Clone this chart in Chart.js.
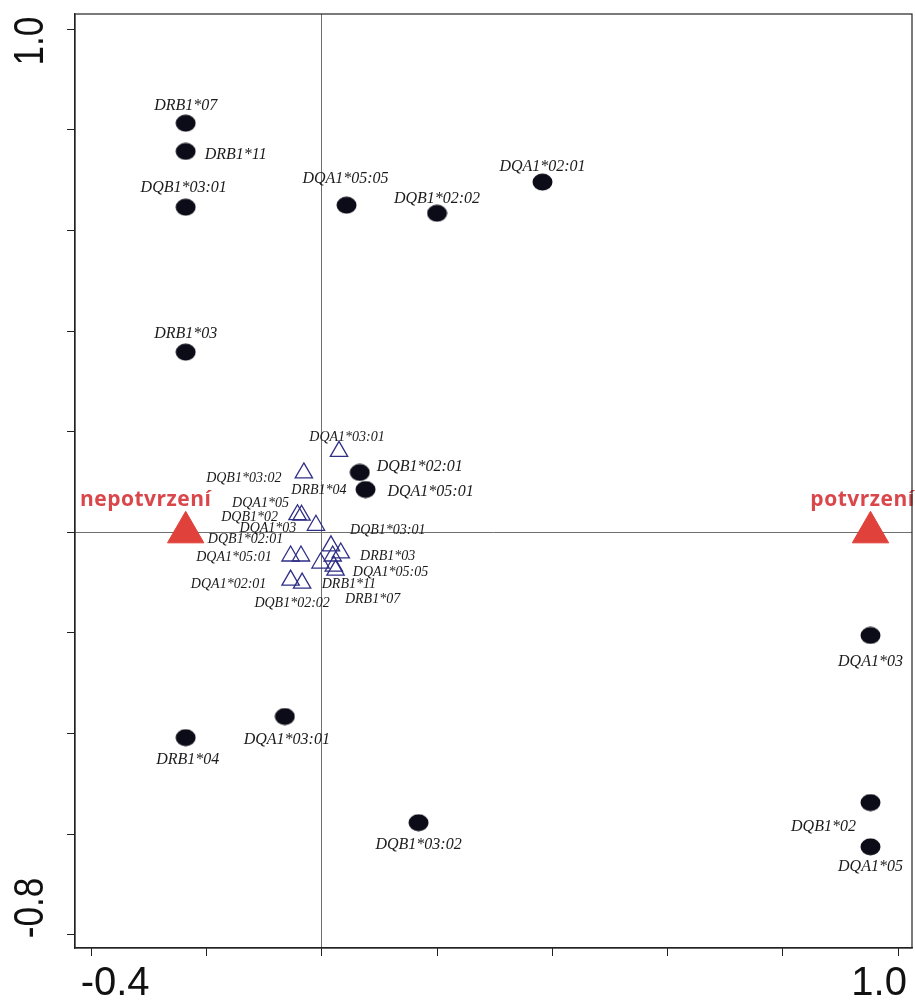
<!DOCTYPE html>
<html>
<head>
<meta charset="utf-8">
<script src="https://cdn.jsdelivr.net/npm/chart.js@4.4.1/dist/chart.umd.min.js"></script>
<style>
  body { margin: 0; background: #fff; }
  canvas { display: block; }
</style>
</head>
<body>
<canvas id="ordination" width="915" height="1003"></canvas>
<script>
// allele scores (black dots)
const alleleNames = ["DRB1*07", "DRB1*11", "DQB1*03:01", "DRB1*03", "DQA1*05:05", "DQB1*02:02",
  "DQA1*02:01", "DQB1*02:01", "DQA1*05:01", "DQA1*03", "DQB1*02", "DQA1*05",
  "DQA1*03:01", "DRB1*04", "DQB1*03:02"];
const alleleX = [-0.236, -0.236, -0.236, -0.236, 0.043, 0.200, 0.383, 0.066, 0.076, 0.952, 0.952, 0.952, -0.064, -0.236, 0.168];
const alleleY = [0.813, 0.757, 0.646, 0.358, 0.650, 0.634, 0.696, 0.119, 0.085, -0.205, -0.537, -0.625, -0.366, -0.408, -0.577];

// sample scores (open triangles)
const sampleNames = ["DQA1*03:01", "DQB1*03:02", "DRB1*04", "DQA1*05", "DQB1*02", "DQA1*03",
  "DQB1*02:01", "DQB1*03:01", "DRB1*03", "DQA1*05:01", "DQA1*05:05", "DQA1*02:01",
  "DRB1*11", "DQB1*02:02", "DRB1*07"];
const sampleX = [0.030, -0.031, 0.016, -0.042, -0.035, -0.010, -0.054, 0.033, 0.019, -0.036, 0.024, -0.054, 0.021, -0.034, -0.002];
const sampleY = [0.161, 0.118, -0.027, 0.035, 0.034, 0.014, -0.047, -0.041, -0.047, -0.047, -0.075, -0.095, -0.067, -0.101, -0.061];

// group centroids (red triangles)
const groupNames = ["nepotvrzení", "potvrzení"];
const groupX = [-0.236, 0.952];
const groupY = [0, 0];

const xTicks = [-0.4, -0.2, 0, 0.2, 0.4, 0.6, 0.8, 1.0];
const yTicks = [-0.8, -0.6, -0.4, -0.2, 0, 0.2, 0.4, 0.6, 0.8, 1.0];
const xTickLabels = { "-0.4": "-0.4", "1": "1.0" };
const yTickLabels = { "-0.8": "-0.8", "1": "1.0" };

// label placement (pixel shift of label centre from its point)
const alleleLabelShift = [[0, -17], [50, 3], [-2, -19], [0, -18], [-1, -26], [0, -14], [0, -15],
  [60, -6], [65, 2], [0, 26], [-47, 24], [0, 20], [2, 23], [2, 22], [0, 22]];
const sampleLabelShift = [[8, -14], [-60, 5], [-12, -56], [-37, -11], [-52, 2], [-48, 3],
  [-45, -17], [47, -23], [55, 0], [-67, 1], [55, 2], [-62, 4], [15, 18], [-10, 20], [52, 36]];
const groupLabelShift = [[-40, -32], [-8, -32]];

// slightly flattened black dot
const dot = document.createElement('canvas');
dot.width = 21; dot.height = 18;
const dctx = dot.getContext('2d');
dctx.fillStyle = '#0c0c18';
dctx.beginPath();
dctx.ellipse(10.5, 9, 10, 8.5, 0, 0, Math.PI * 2);
dctx.fill();

const toPoints = (xs, ys) => xs.map((x, i) => ({ x: x, y: ys[i] }));

const labelPlugin = {
  id: 'pointLabels',
  afterDatasetsDraw(chart) {
    const ctx = chart.ctx;
    const sets = [
      { names: alleleNames, shift: alleleLabelShift, font: 'italic 16px "Liberation Serif"', color: '#1b1b1b', spacing: '0px' },
      { names: sampleNames, shift: sampleLabelShift, font: 'italic 14px "Liberation Serif"', color: '#1b1b1b', spacing: '0px' },
      { names: groupNames, shift: groupLabelShift, font: 'bold 21px "Open Sans"', color: '#d9474b', spacing: '0.5px' }
    ];
    ctx.save();
    ctx.textAlign = 'center';
    ctx.textBaseline = 'middle';
    sets.forEach((s, di) => {
      const meta = chart.getDatasetMeta(di);
      ctx.font = s.font;
      ctx.fillStyle = s.color;
      ctx.letterSpacing = s.spacing;
      meta.data.forEach((pt, i) => {
        ctx.fillText(s.names[i], pt.x + s.shift[i][0], pt.y + s.shift[i][1]);
      });
    });
    ctx.restore();
  }
};

const framePlugin = {
  id: 'frameAndAxisText',
  afterDraw(chart) {
    const ctx = chart.ctx;
    const a = chart.chartArea;
    ctx.save();
    ctx.strokeStyle = '#222';
    ctx.lineWidth = 1.2;
    ctx.strokeRect(a.left, a.top, a.right - a.left, a.bottom - a.top);

    ctx.fillStyle = '#111';
    ctx.font = '40px "Liberation Sans"';
    ctx.textAlign = 'center';
    ctx.textBaseline = 'middle';
    const xs = chart.scales.x;
    ctx.fillText(xTickLabels["-0.4"], xs.getPixelForValue(-0.4) + 24, 984);
    ctx.fillText(xTickLabels["1"], xs.getPixelForValue(1.0) - 19, 984);

    const ys = chart.scales.y;
    [[1.0, yTickLabels["1"], 12], [-0.8, yTickLabels["-0.8"], -27]].forEach(([v, txt, dy]) => {
      ctx.save();
      ctx.translate(31, ys.getPixelForValue(v) + dy);
      ctx.rotate(-Math.PI / 2);
      ctx.scale(0.88, 1.05);
      ctx.fillText(txt, 0, 0);
      ctx.restore();
    });
    ctx.restore();
  }
};

const zeroGrid = {
  color: c => (c.tick && c.tick.value === 0 ? '#6f6f6f' : 'rgba(0,0,0,0)'),
  tickColor: '#222',
  tickLength: 8,
  lineWidth: 1
};

const ctx = document.getElementById('ordination').getContext('2d');
const chart = new Chart(ctx, {
  type: 'scatter',
  data: {
    datasets: [
      {
        label: 'alleles',
        data: toPoints(alleleX, alleleY),
        pointStyle: dot,
        pointRadius: 10
      },
      {
        label: 'samples',
        data: toPoints(sampleX, sampleY),
        pointStyle: 'triangle',
        pointRadius: 10,
        backgroundColor: 'rgba(0,0,0,0)',
        borderColor: '#2e2e86',
        borderWidth: 1.3
      },
      {
        label: 'groups',
        data: toPoints(groupX, groupY),
        pointStyle: 'triangle',
        pointRadius: 21,
        backgroundColor: '#e0413a',
        borderColor: '#e0413a',
        borderWidth: 1
      }
    ]
  },
  options: {
    responsive: false,
    animation: false,
    layout: { autoPadding: false, padding: { top: 14, right: 3, left: 0, bottom: 0 } },
    plugins: {
      legend: { display: false },
      tooltip: { enabled: false }
    },
    scales: {
      x: {
        type: 'linear',
        min: -0.428,
        max: 1.024,
        afterBuildTicks: s => { s.ticks = xTicks.map(v => ({ value: v })); },
        afterFit: s => { s.height = 55; },
        ticks: { display: false },
        grid: zeroGrid,
        border: { display: true, color: '#222', width: 1.2 }
      },
      y: {
        type: 'linear',
        min: -0.826,
        max: 1.030,
        afterBuildTicks: s => { s.ticks = yTicks.map(v => ({ value: v })); },
        afterFit: s => { s.width = 75; },
        ticks: { display: false },
        grid: zeroGrid,
        border: { display: true, color: '#222', width: 1.2 }
      }
    }
  },
  plugins: [labelPlugin, framePlugin]
});
</script>
</body>
</html>
